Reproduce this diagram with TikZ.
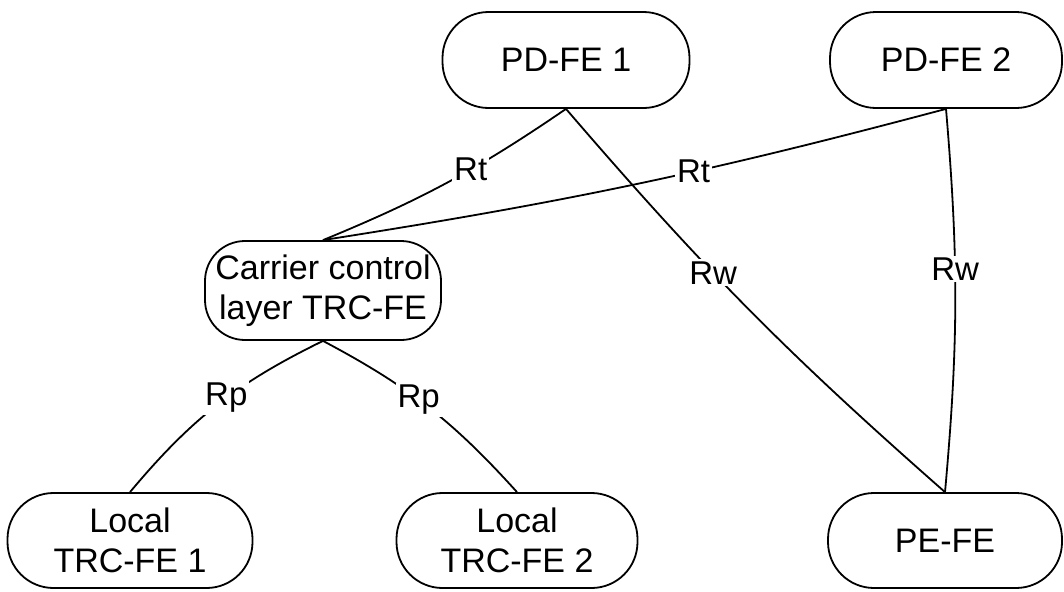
\documentclass[tikz,border=0pt]{standalone}
\usepackage{fontspec}
\setmainfont{Liberation Sans}
\usetikzlibrary{calc}

\begin{document}
\begin{tikzpicture}[x=0.5pt,y=0.5pt,line width=0.9pt,
    fe/.style={draw,rounded corners=23pt,minimum height=48pt,align=center,inner sep=0pt,
      font=\fontsize{17}{20}\selectfont},
    lbl/.style={fill=white,inner sep=1pt,font=\fontsize{16.5}{20}\selectfont}]
  \useasboundingbox (0,0) rectangle (1064,591);
  % function entities
  \node[fe,minimum width=123.5pt] (pd1) at (566,531) {PD-FE 1};
  \node[fe,minimum width=116pt] (pd2) at (946,531) {PD-FE 2};
  \node[fe,rounded corners=20pt,minimum width=118pt,minimum height=49.5pt] (trc) at (323,300.5) {Carrier control\\layer TRC-FE};
  \node[fe,minimum width=122.5pt,minimum height=47.5pt] (loc1) at (130,50.5) {Local\\TRC-FE 1};
  \node[fe,minimum width=120.5pt,minimum height=47.5pt] (loc2) at (517,50.5) {Local\\TRC-FE 2};
  \node[fe,minimum width=117pt,minimum height=47.5pt] (pe) at (945,50.5) {PE-FE};
  % reference points
  \draw (pd1.south) to[bend left=6] node[lbl,pos=0.4]{Rt} (trc.north);
  \draw (pd2.south) to[bend left=3] node[lbl,pos=0.4]{Rt} (trc.north);
  \draw (pd1.south) to[bend right=4] node[lbl,pos=0.4]{Rw} (pe.north);
  \draw (pd2.south) to[bend left=5] node[lbl,pos=0.41]{Rw} (pe.north);
  \draw (trc.south) to[bend right=12] node[lbl,pos=0.45]{Rp} (loc1.north);
  \draw (trc.south) to[bend left=10] node[lbl,pos=0.45]{Rp} (loc2.north);
\end{tikzpicture}
\end{document}
